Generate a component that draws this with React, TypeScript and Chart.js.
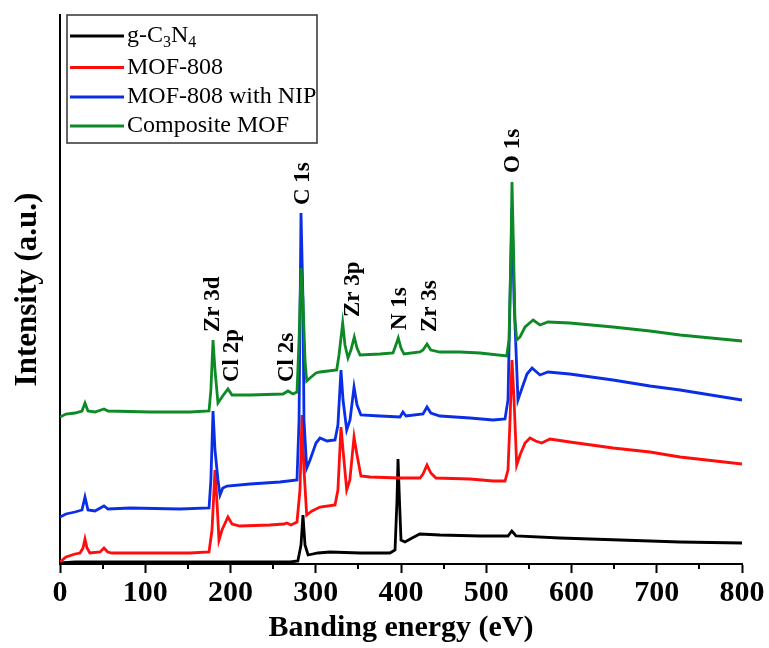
import React, { useEffect, useRef } from "react";
import { Chart, registerables } from "chart.js";

Chart.register(...registerables);

// ---- Data (binding energy in eV, intensity in a.u.) ----
const blackX = [0, 17.6, 270, 279, 282.7, 285, 287.4, 291, 302.6, 316.7, 352, 387, 393, 395.3, 396.5, 398.2, 400, 404.7, 413, 422, 445.7, 492.7, 525.5, 530, 535, 586.5, 657, 727, 800];
const blackY = [1, 2, 2, 3, 19, 49, 19, 9, 11, 12, 11, 11, 14, 64, 105, 64, 24, 22, 26, 30, 29, 28, 28, 33, 28, 26, 24, 22, 21];

const redX = [0, 7, 17.6, 23.5, 27, 29.3, 31.7, 35, 47, 51.6, 56, 61, 105.6, 152.5, 174.8, 178.3, 181.8, 184, 186.5, 190, 197, 201.8, 211, 246, 262.8, 266, 271, 278, 281.5, 283.9, 286.2, 289.4, 295.6, 305, 322.6, 326, 329.6, 332, 336.3, 340, 344.9, 348.4, 353, 363.6, 398.8, 422.3, 425.8, 430.5, 435, 441, 481, 508, 522, 525.5, 527.9, 530.2, 532.6, 535.7, 539.6, 545.5, 551.3, 558, 565, 574.8, 598, 648.7, 692, 727.3, 800];
const redY = [2, 7, 10, 11, 16, 25, 16, 11, 12, 16, 12, 11, 11, 11, 12, 34, 94, 64, 24, 34, 47, 40, 38, 39, 40, 41, 39, 42, 74, 149, 94, 49, 53, 57, 59, 74, 137, 114, 74, 84, 127, 109, 88, 87, 86, 86, 90, 99, 91, 86, 85, 83, 83, 94, 144, 204, 164, 99, 109, 121, 126, 123, 121, 125, 122, 116, 112, 107, 100];

const blueX = [0, 7, 17.6, 25.8, 29.3, 32.8, 41, 51.6, 56.3, 82, 140.8, 174.8, 177, 179.5, 181.8, 185.3, 187.7, 191, 196, 222.9, 258, 278, 280.4, 282.7, 285, 286.2, 289.4, 293.3, 300.3, 305, 313.2, 322.6, 326, 329.6, 332, 336.3, 340.2, 344.9, 348.4, 353, 375.4, 398.8, 402.3, 405.9, 425.8, 430.5, 435, 445.7, 481, 508, 522, 525.5, 527.9, 530.2, 532.6, 537.2, 542, 547.8, 553.7, 563, 572.4, 598, 648.7, 692, 727.3, 800];
const blueY = [47, 50, 52, 54, 67, 54, 53, 58, 55, 56, 55, 56, 84, 153, 114, 84, 69, 76, 78, 80, 82, 84, 144, 351, 264, 144, 96, 104, 121, 126, 123, 124, 139, 194, 164, 134, 144, 177, 159, 149, 148, 147, 152, 148, 150, 157, 151, 148, 146, 144, 145, 164, 264, 356, 264, 164, 176, 190, 196, 189, 192, 190, 184, 178, 174, 164];

const greenX = [0, 7, 17.6, 25.8, 29.3, 32.8, 41, 51.6, 56.3, 105.6, 152.5, 174.8, 177, 179.5, 181.8, 185.3, 190, 197, 201.8, 222.9, 261.6, 267.4, 273.3, 278, 280.4, 282.7, 285, 287.4, 289.4, 293.3, 300.3, 305, 324.6, 327.3, 331.6, 334.3, 337.8, 341.3, 345.2, 348.4, 352, 375.4, 390.6, 394, 396.8, 400, 403.5, 422.3, 425.8, 430.5, 435, 445.7, 469, 492.7, 524, 526.7, 529, 530.2, 532, 533.7, 535.7, 539.6, 545.5, 555, 563, 572.4, 598, 648.7, 692, 727.3, 800];
const greenY = [147, 150, 151, 153, 161, 153, 152, 155, 153, 152, 152, 153, 174, 224, 194, 161, 167, 175, 169, 169, 170, 173, 170, 172, 224, 296, 264, 204, 183, 186, 191, 192, 194, 209, 241, 219, 206, 214, 227, 216, 209, 210, 211, 219, 226, 216, 210, 212, 214, 220, 214, 212, 212, 211, 208, 224, 314, 382, 314, 244, 224, 227, 237, 244, 239, 242, 241, 237, 233, 229, 223];

const seriesNames = ["g-C3N4", "MOF-808", "MOF-808 with NIP", "Composite MOF"];
const seriesColors = ["#000000", "#ff0d0d", "#0a2ee6", "#0d8a26"];

const xTickValues = [0, 100, 200, 300, 400, 500, 600, 700, 800];
const xMinorTicks = [50, 150, 250, 350, 450, 550, 650, 750];

const peakLabels = ["Zr 3d", "Cl 2p", "Cl 2s", "C 1s", "Zr 3p", "N 1s", "Zr 3s", "O 1s"];
const peakLabelX = [179.5, 201.8, 266.3, 285, 343.7, 398.8, 434, 531.4];
const peakLabelY = [232, 182, 182, 359, 247, 234, 232, 391];

const SERIF = '"Liberation Serif", "Times New Roman", serif';

const annotationPlugin = {
  id: "xpsAnnotations",
  afterDatasetsDraw(chart: any) {
    const { ctx, chartArea, scales } = chart;
    const xs = scales.x;
    const ys = scales.y;
    ctx.save();
    // peak labels, rotated
    ctx.fillStyle = "#000";
    ctx.font = `bold 23px ${SERIF}`;
    ctx.textAlign = "left";
    ctx.textBaseline = "middle";
    peakLabels.forEach((lab, i) => {
      const px = xs.getPixelForValue(peakLabelX[i]);
      const py = ys.getPixelForValue(peakLabelY[i]);
      ctx.save();
      ctx.translate(px, py);
      ctx.rotate(-Math.PI / 2);
      ctx.fillText(lab, 0, 0);
      ctx.restore();
    });

    // minor ticks
    ctx.strokeStyle = "#000";
    ctx.lineWidth = 2;
    xMinorTicks.forEach((v) => {
      const px = Math.round(xs.getPixelForValue(v));
      ctx.beginPath();
      ctx.moveTo(px, chartArea.bottom);
      ctx.lineTo(px, chartArea.bottom + 5);
      ctx.stroke();
    });

    // y-axis title
    ctx.save();
    ctx.font = `bold 31px ${SERIF}`;
    ctx.textAlign = "center";
    ctx.textBaseline = "middle";
    ctx.translate(28, (chartArea.top + chartArea.bottom) / 2);
    ctx.rotate(-Math.PI / 2);
    ctx.fillText("Intensity (a.u.)", 0, 0);
    ctx.restore();

    // legend
    const lx = chartArea.left + 7;
    const ly = chartArea.top;
    const lw = 250;
    const lh = 128;
    ctx.fillStyle = "#fff";
    ctx.fillRect(lx, ly, lw, lh);
    ctx.strokeStyle = "#333";
    ctx.lineWidth = 1.5;
    ctx.strokeRect(lx, ly, lw, lh);
    const rows = [21, 52.5, 82, 111];
    seriesNames.forEach((name, i) => {
      const ry = ly + rows[i];
      ctx.strokeStyle = seriesColors[i];
      ctx.lineWidth = 3;
      ctx.beginPath();
      ctx.moveTo(lx + 3, ry);
      ctx.lineTo(lx + 57, ry);
      ctx.stroke();
      ctx.fillStyle = "#000";
      ctx.textAlign = "left";
      ctx.textBaseline = "middle";
      let tx = lx + 60;
      if (i === 0) {
        const parts: [string, boolean][] = [["g-C", false], ["3", true], ["N", false], ["4", true]];
        parts.forEach(([t, sub]) => {
          ctx.font = sub ? `16px ${SERIF}` : `24px ${SERIF}`;
          ctx.fillText(t, tx, sub ? ry + 7 : ry);
          tx += ctx.measureText(t).width;
        });
      } else {
        ctx.font = `24px ${SERIF}`;
        ctx.fillText(name, tx, ry);
      }
    });
    ctx.restore();
  },
};

export default function App() {
  const canvasRef = useRef<HTMLCanvasElement | null>(null);

  useEffect(() => {
    if (!canvasRef.current) return;
    const xsArr = [blackX, redX, blueX, greenX];
    const ysArr = [blackY, redY, blueY, greenY];
    const orders = [3, 2, 1, 0];
    const datasets = seriesNames.map((name, i) => ({
      label: name,
      data: xsArr[i].map((x, j) => ({ x, y: ysArr[i][j] })),
      borderColor: seriesColors[i],
      backgroundColor: seriesColors[i],
      borderWidth: 2.8,
      pointRadius: 0,
      tension: 0,
      fill: false,
      order: orders[i],
    }));

    const chart = new Chart(canvasRef.current, {
      type: "line",
      data: { datasets },
      options: {
        responsive: false,
        animation: false,
        devicePixelRatio: 1,
        layout: { padding: { top: 15, right: 27, left: 0, bottom: 0 } },
        plugins: { legend: { display: false }, tooltip: { enabled: false } },
        scales: {
          x: {
            type: "linear",
            min: 0,
            max: 800,
            afterFit: (s: any) => {
              s.height = 84;
            },
            afterBuildTicks: (s: any) => {
              s.ticks = xTickValues.map((v) => ({ value: v }));
            },
            ticks: {
              color: "#000",
              padding: 2,
              maxRotation: 0,
              autoSkip: false,
              font: { family: SERIF, size: 30, weight: "bold" },
            },
            grid: {
              display: true,
              drawOnChartArea: false,
              drawTicks: true,
              tickLength: 9,
              tickWidth: 2,
              tickColor: "#000",
              color: "#000",
            },
            border: { display: true, color: "#000", width: 2 },
            title: {
              display: true,
              text: "Banding energy (eV)",
              color: "#000",
              font: { family: SERIF, size: 30, weight: "bold" },
              padding: { top: 0, bottom: 2 },
            },
          },
          y: {
            type: "linear",
            min: 0,
            max: 549,
            afterFit: (s: any) => {
              s.width = 60;
            },
            ticks: { display: false },
            grid: { display: false },
            border: { display: true, color: "#000", width: 2 },
          },
        },
      },
      plugins: [annotationPlugin],
    } as any);

    return () => chart.destroy();
  }, []);

  return (
    <div style={{ position: "absolute", left: 0, top: 0, width: 769, height: 648, background: "#fff" }}>
      <canvas ref={canvasRef} width={769} height={648} style={{ display: "block" }} />
    </div>
  );
}
